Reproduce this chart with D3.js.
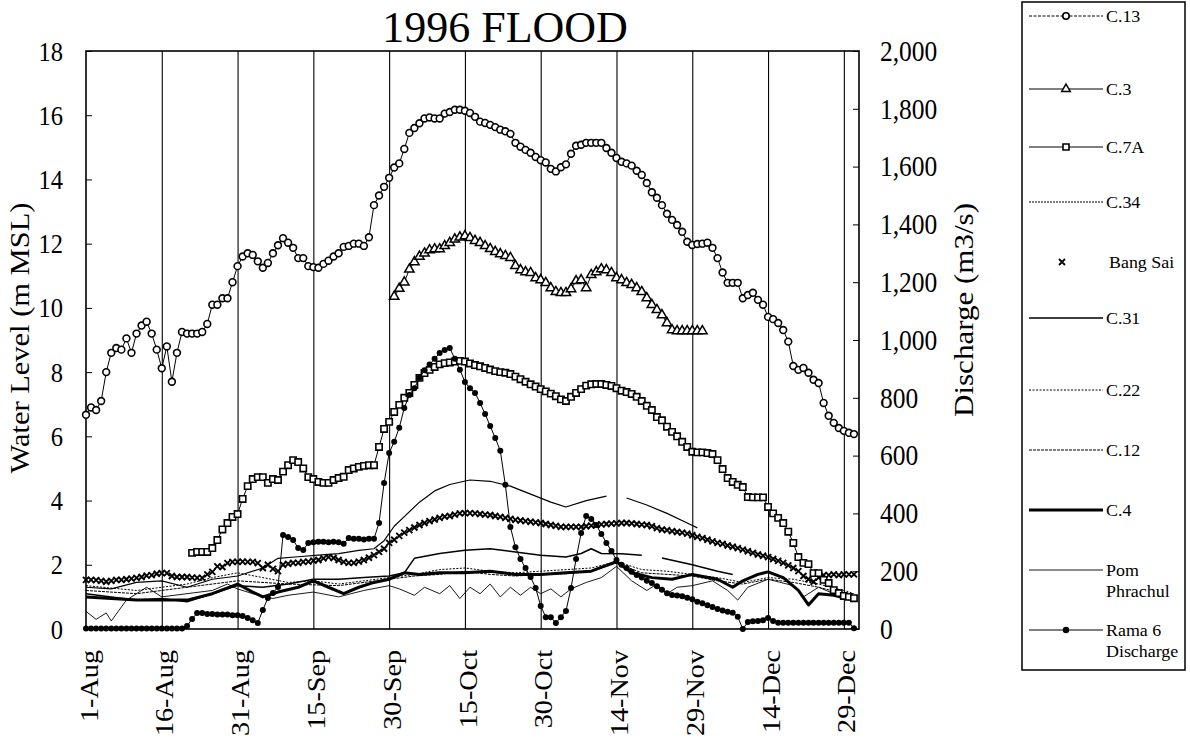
<!DOCTYPE html>
<html><head><meta charset="utf-8">
<script src="https://cdn.jsdelivr.net/npm/d3@7"></script>
<style>
body{margin:0;background:#fff}
svg{display:block}
text{font-family:"Liberation Serif","Times New Roman",serif;fill:#000}
</style>
</head><body>
<svg id="c" width="1190" height="739"></svg>
<script>
// ---------- DATA ----------
const title = "1996 FLOOD";
const tickDays = [0,15,30,45,60,75,90,105,120,135,150];
const tickLabels = ["1-Aug","16-Aug","31-Aug","15-Sep","30-Sep","15-Oct","30-Oct","14-Nov","29-Nov","14-Dec","29-Dec"];
const leftTicks = [0,2,4,6,8,10,12,14,16,18];
const rightTicks = [0,200,400,600,800,1000,1200,1400,1600,1800,2000];

// daily water levels, day 0 = 1-Aug
const c13 = [6.67,6.9,6.82,7.1,8.0,8.6,8.75,8.7,9.05,8.6,9.2,9.45,9.57,9.2,8.7,8.12,8.8,7.7,8.6,9.25,
9.2,9.2,9.2,9.25,9.5,10.1,10.1,10.3,10.3,10.8,11.3,11.6,11.7,11.65,11.45,11.25,11.4,11.7,11.95,12.17,
12.03,11.87,11.55,11.55,11.3,11.27,11.25,11.37,11.47,11.6,11.7,11.9,11.93,12.0,12.0,11.93,12.2,13.2,13.5,13.77,
14.05,14.37,14.5,14.95,15.45,15.6,15.75,15.9,15.93,15.9,15.9,16.05,16.1,16.17,16.17,16.14,16.07,15.95,15.8,15.76,
15.7,15.63,15.55,15.5,15.42,15.14,15.02,14.92,14.83,14.7,14.6,14.53,14.33,14.25,14.38,14.47,14.8,15.05,15.08,15.14,
15.14,15.14,15.14,14.98,14.83,14.67,14.55,14.5,14.43,14.27,14.14,13.89,13.6,13.43,13.2,12.93,12.74,12.58,12.37,12.06,
11.96,11.99,12.0,12.03,11.87,11.55,11.1,10.78,10.78,10.78,10.3,10.4,10.47,10.25,10.1,9.72,9.65,9.53,9.31,8.95,
8.19,8.07,8.13,7.98,7.76,7.66,7.04,6.64,6.42,6.26,6.17,6.11,6.07];

const c3Start = 61;
const c3 = [10.35,10.6,10.8,11.2,11.43,11.6,11.7,11.8,11.83,11.83,11.93,12.03,12.14,12.2,12.24,12.18,12.09,12.03,11.93,11.84,
11.75,11.68,11.62,11.56,11.31,11.18,11.12,11.09,10.93,10.87,10.78,10.62,10.5,10.47,10.47,10.59,10.84,10.87,10.62,11.03,
11.12,11.21,11.18,11.09,10.93,10.87,10.78,10.72,10.62,10.5,10.31,10.1,9.94,9.78,9.53,9.31,9.28,9.28,9.28,9.28,9.28,9.28];

const c7aStart = 21;
const c7a = [2.37,2.4,2.4,2.4,2.52,2.77,3.1,3.3,3.49,3.58,4.05,4.45,4.67,4.73,4.73,4.55,4.67,4.64,4.9,5.1,
5.26,5.2,5.0,4.73,4.67,4.58,4.55,4.55,4.64,4.7,4.74,4.95,5.0,5.05,5.08,5.1,5.1,5.67,6.23,6.45,
6.76,6.98,7.2,7.35,7.6,7.82,7.97,8.07,8.16,8.24,8.28,8.3,8.33,8.35,8.33,8.27,8.22,8.18,8.13,8.08,
8.03,8.0,7.98,7.94,7.86,7.78,7.7,7.62,7.55,7.47,7.4,7.33,7.25,7.15,7.1,7.23,7.35,7.47,7.58,7.62,
7.63,7.63,7.6,7.57,7.5,7.42,7.38,7.32,7.23,7.1,6.95,6.82,6.6,6.5,6.3,6.14,6.0,5.83,5.67,5.52,
5.5,5.5,5.48,5.45,5.26,4.98,4.7,4.58,4.49,4.42,4.11,4.1,4.1,4.1,3.8,3.6,3.46,3.3,3.03,2.68,
2.24,2.06,2.02,1.74,1.74,1.53,1.43,1.21,1.12,1.03,1.0,0.96];

const bangSai = [1.53,1.53,1.52,1.5,1.47,1.5,1.53,1.53,1.55,1.57,1.59,1.62,1.66,1.68,1.72,1.74,1.74,1.65,1.62,1.62,
1.62,1.6,1.59,1.59,1.7,1.78,1.95,1.93,2.05,2.09,2.09,2.1,2.09,2.09,2.05,1.9,2.0,1.87,1.8,2.0,
2.03,2.06,2.06,2.09,2.1,2.13,2.15,2.2,2.24,2.21,2.15,2.09,2.06,2.06,2.1,2.15,2.22,2.3,2.4,2.5,
2.68,2.78,2.9,3.0,3.08,3.16,3.24,3.3,3.36,3.41,3.46,3.5,3.52,3.56,3.6,3.61,3.61,3.6,3.58,3.56,
3.55,3.52,3.49,3.46,3.43,3.4,3.38,3.36,3.34,3.32,3.3,3.27,3.24,3.21,3.18,3.18,3.18,3.18,3.18,3.2,
3.22,3.24,3.26,3.27,3.28,3.29,3.3,3.3,3.29,3.27,3.25,3.24,3.2,3.14,3.1,3.08,3.05,3.02,3.0,2.97,
2.92,2.87,2.83,2.78,2.73,2.68,2.65,2.6,2.56,2.52,2.47,2.42,2.37,2.32,2.28,2.24,2.18,2.12,2.06,1.98,
1.9,1.8,1.65,1.55,1.47,1.6,1.68,1.68,1.7,1.68,1.7,1.7,1.7];

// Rama 6 discharge (m3/s), daily
const rama6 = [2,2,2,2,2,2,2,2,2,2,2,2,2,2,2,2,2,2,2,2,
10,35,55,55,52,52,50,50,50,48,48,45,38,30,21,66,107,125,145,325,
318,308,280,273,298,300,302,302,300,302,300,295,315,312,312,310,312,312,367,505,
609,648,696,765,810,833,869,895,915,935,955,965,972,935,897,855,833,817,782,744,
702,661,617,499,353,283,242,211,180,142,80,41,41,21,41,62,142,242,332,391,
381,360,329,298,270,239,222,211,198,187,178,167,159,148,136,124,118,116,113,108,
103,94,89,82,76,69,64,60,56,42,0,24,27,28,30,38,28,22,22,22,
22,22,22,22,22,22,22,22,22,22,22,22,3];

// line-only stations: [day, level]; null = gap
const c34 = [[0,1.3],[5,1.25],[10,1.45],[15,1.5],[20,1.3],[25,1.55],[30,1.65],[35,1.9],[38,2.2],[42,2.25],[46,2.3],[50,2.35],[54,2.45],[57,2.5],[59,2.75],[61,3.2],[63,3.5],[66,3.95],[69,4.3],[72,4.5],[76,4.64],[80,4.6],[84,4.45],[88,4.2],[92,3.95],[95,3.8],[99,4.0],[103,4.14],[105,null],[107,4.08],[111,3.86],[115,3.6],[119,3.3],[121,3.15]];
const c31 = [[0,1.1],[5,1.0],[10,0.9],[15,0.95],[20,0.85],[25,1.1],[30,1.35],[35,1.3],[40,1.4],[45,1.55],[50,1.55],[55,1.6],[60,1.65],[63,1.75],[65,2.2],[70,2.35],[75,2.45],[80,2.5],[85,2.4],[90,2.3],[95,2.24],[98,2.35],[100,2.5],[102,2.35],[106,2.34],[110,2.3],[112,null],[114,2.21],[120,2.0],[125,1.8],[128,1.7]];
const c22 = [[0,1.35],[10,1.2],[20,1.4],[25,1.6],[30,1.75],[35,1.6],[40,1.45],[45,1.5],[50,1.4],[55,1.5],[60,1.6],[65,1.7],[70,1.85],[75,1.9],[80,1.8],[85,1.75],[90,1.8],[95,1.85],[100,1.9],[105,2.1],[110,1.85],[115,1.8],[120,1.7],[125,1.6],[130,1.45],[135,1.6],[140,1.55],[145,1.4],[150,1.2],[152,1.1]];
const c12 = [[0,1.2],[10,1.1],[20,1.3],[30,1.5],[40,1.4],[50,1.35],[60,1.55],[65,1.65],[70,1.7],[75,1.8],[80,1.7],[85,1.65],[90,1.7],[95,1.72],[100,1.8],[105,2.05],[110,1.75],[115,1.7],[120,1.65],[125,1.5],[130,1.4],[135,1.55],[140,1.45],[145,1.3],[150,1.1],[152,1.0]];
const c4 = [[0,1.0],[5,0.95],[10,0.9],[15,0.9],[20,0.9],[25,1.1],[30,1.4],[33,1.15],[35,1.0],[38,1.15],[42,1.3],[45,1.5],[48,1.3],[51,1.1],[54,1.3],[57,1.45],[60,1.55],[63,1.75],[66,1.7],[70,1.75],[75,1.75],[80,1.8],[85,1.7],[90,1.7],[95,1.75],[100,1.8],[105,2.1],[108,1.75],[112,1.6],[116,1.55],[120,1.7],[125,1.55],[128,1.3],[130,1.5],[133,1.7],[135,1.78],[138,1.6],[141,1.2],[143,0.75],[145,1.1],[148,1.05],[152,0.9]];
const pom = [[0,0.55],[2,0.3],[4,0.5],[5,0.25],[8,0.9],[12,1.3],[15,1.0],[20,1.1],[25,1.2],[28,1.4],[30,1.25],[33,1.1],[37,0.95],[40,1.05],[45,1.15],[50,1.0],[55,1.2],[60,1.35],[62,1.25],[65,1.05],[67,1.3],[70,1.1],[72,1.35],[74,0.95],[76,1.3],[78,1.1],[80,1.4],[82,1.0],[84,1.3],[86,1.05],[88,1.3],[90,1.1],[92,1.25],[94,1.0],[96,1.25],[99,1.45],[102,1.6],[105,1.95],[108,1.5],[111,1.2],[113,1.4],[115,1.1],[117,1.3],[120,1.35],[124,1.5],[127,1.2],[129,0.9],[131,1.3],[135,1.55],[140,1.35],[142,1.0],[145,1.3],[148,1.1],[152,0.95]];

const legendNames = ["C.13","C.3","C.7A","C.34","Bang Sai","C.31","C.22","C.12","C.4","Pom|Phrachul","Rama 6|Discharge"];

// ---------- CHART ----------
const svg = d3.select("#c");
const M = {l:86, r:859, t:51, b:629};
const SY = 1.15; // vertical stretch of scanned lettering
const x = d3.scaleLinear().domain([0,153]).range([M.l, M.r]);
const y = d3.scaleLinear().domain([0,18]).range([M.b, M.t]);
const yR = d3.scaleLinear().domain([0,2000]).range([M.b, M.t]);

svg.append("rect").attr("width",1190).attr("height",739).attr("fill","#fff");

// title
svg.append("text").text(title)
  .attr("text-anchor","middle").attr("font-size",44)
  .attr("x",505).attr("y",42);

// gridlines + x axis
const gx = svg.append("g").attr("transform",`translate(0,${M.b})`)
  .call(d3.axisBottom(x).tickValues(tickDays).tickSize(-(M.b-M.t)).tickFormat((d,i)=>tickLabels[i]));
gx.select(".domain").remove();
gx.selectAll(".tick line").attr("stroke","#000").attr("stroke-width",1.1)
  .filter(d=>d===0).remove();
gx.selectAll(".tick text")
  .attr("font-size",24.5).attr("font-family","Liberation Serif")
  .attr("text-anchor","end").attr("x",null).attr("y",null).attr("dy","0.33em")
  .attr("transform",`translate(3,21) scale(1,${SY}) rotate(-90)`);

// left axis
const gl = svg.append("g").attr("transform",`translate(${M.l},0)`)
  .call(d3.axisLeft(y).tickValues(leftTicks).tickSize(-6).tickPadding(23));
gl.select(".domain").remove();
gl.selectAll(".tick line").attr("stroke","#000");
gl.selectAll(".tick text").attr("font-size",24.5).attr("font-family","Liberation Serif")
  .attr("transform",`scale(1,${SY})`);

// right axis
const gr = svg.append("g").attr("transform",`translate(${M.r},0)`)
  .call(d3.axisRight(yR).tickValues(rightTicks).tickSize(-6).tickPadding(21).tickFormat(d3.format(",")));
gr.select(".domain").remove();
gr.selectAll(".tick line").attr("stroke","#000");
gr.selectAll(".tick text").attr("font-size",25.5).attr("font-family","Liberation Serif")
  .attr("transform",`scale(1,${SY})`);

// axis titles
svg.append("text").text("Water Level (m MSL)").attr("text-anchor","middle").attr("font-size",26.5)
  .attr("transform",`translate(29,338) scale(1,${SY}) rotate(-90)`);
svg.append("text").text("Discharge (m3/s)").attr("text-anchor","middle").attr("font-size",27)
  .attr("transform",`translate(973,310) scale(1,${SY}) rotate(-90)`);

// frame
svg.append("rect").attr("x",M.l).attr("y",M.t).attr("width",M.r-M.l).attr("height",M.b-M.t)
  .attr("fill","none").attr("stroke","#000").attr("stroke-width",1.6);

const plot = svg.append("g");
const lineGen = d3.line().defined(d=>d[1]!=null).x(d=>x(d[0])).y(d=>y(d[1]));
const daily = (arr,start=0)=>arr.map((v,i)=>[start+i,v]);

function drawLine(data, width, dash){
  plot.append("path").datum(data).attr("d",lineGen)
    .attr("fill","none").attr("stroke","#000").attr("stroke-width",width)
    .attr("stroke-dasharray",dash||null).attr("stroke-linejoin","round");
}

// plain line stations
drawLine(pom, 0.9);
drawLine(c12, 1.0, "3,1");
drawLine(c22, 1.0, "2,1.5");
drawLine(c31, 1.5);
drawLine(c34, 1.2);
drawLine(c4, 3.0);

// Bang Sai: x markers only
const crossPath = "M-3,-3L3,3M-3,3L3,-3";
plot.append("g").selectAll("path").data(daily(bangSai)).join("path")
  .attr("d",crossPath).attr("transform",d=>`translate(${x(d[0])},${y(d[1])})`)
  .attr("stroke","#000").attr("stroke-width",1.9).attr("fill","none");

// C.7A squares
const c7aData = daily(c7a,c7aStart);
drawLine(c7aData, 1);
plot.append("g").selectAll("path").data(c7aData).join("path")
  .attr("d",d3.symbol(d3.symbolSquare,40)).attr("transform",d=>`translate(${x(d[0])},${y(d[1])})`)
  .attr("fill","#fff").attr("stroke","#000").attr("stroke-width",1.6);

// C.3 triangles
const c3Data = daily(c3,c3Start);
drawLine(c3Data, 1);
plot.append("g").selectAll("path").data(c3Data).join("path")
  .attr("d",d3.symbol(d3.symbolTriangle,38)).attr("transform",d=>`translate(${x(d[0])},${y(d[1])})`)
  .attr("fill","#fff").attr("stroke","#000").attr("stroke-width",1.5);

// C.13 circles
const c13Data = daily(c13);
drawLine(c13Data, 1);
plot.append("g").selectAll("circle").data(c13Data).join("circle")
  .attr("cx",d=>x(d[0])).attr("cy",d=>y(d[1])).attr("r",3.4)
  .attr("fill","#fff").attr("stroke","#000").attr("stroke-width",1.6);

// Rama 6 discharge (right axis)
const ramaData = daily(rama6);
const lineR = d3.line().x(d=>x(d[0])).y(d=>yR(d[1]));
plot.append("path").datum(ramaData).attr("d",lineR).attr("fill","none").attr("stroke","#000").attr("stroke-width",1);
plot.append("g").selectAll("circle").data(ramaData).join("circle")
  .attr("cx",d=>x(d[0])).attr("cy",d=>yR(d[1])).attr("r",3).attr("fill","#000");

// ---------- LEGEND ----------
const leg = svg.append("g");
leg.append("rect").attr("x",1022).attr("y",2).attr("width",163).attr("height",668)
  .attr("fill","#fff").attr("stroke","#000").attr("stroke-width",1.5);
const legY = [16,89,147,202,262,318,390,450,510,570,630];
const legStyle = [
  {w:1, dash:"3,1.5", m:"circle"},
  {w:1, m:"tri"},
  {w:1, m:"sq"},
  {w:1.2, dash:"2,1"},
  {m:"x", noline:true},
  {w:1.6},
  {w:1, dash:"2,1.5"},
  {w:1, dash:"3,1"},
  {w:3},
  {w:0.9},
  {w:1, m:"dot"}
];
legendNames.forEach((name,i)=>{
  const g = leg.append("g").attr("transform",`translate(0,${legY[i]})`);
  const s = legStyle[i];
  if(!s.noline){
    g.append("line").attr("x1",1029).attr("x2",1103).attr("y1",0).attr("y2",0)
      .attr("stroke","#000").attr("stroke-width",s.w).attr("stroke-dasharray",s.dash||null);
  }
  const mx = 1066;
  if(s.m==="circle") g.append("circle").attr("cx",mx).attr("r",3.2).attr("fill","#fff").attr("stroke","#000").attr("stroke-width",1.6);
  if(s.m==="tri") g.append("path").attr("d",d3.symbol(d3.symbolTriangle,32)).attr("transform",`translate(${mx},0)`).attr("fill","#fff").attr("stroke","#000").attr("stroke-width",1.5);
  if(s.m==="sq") g.append("path").attr("d",d3.symbol(d3.symbolSquare,36)).attr("transform",`translate(${mx},0)`).attr("fill","#fff").attr("stroke","#000").attr("stroke-width",1.6);
  if(s.m==="x") g.append("path").attr("d",crossPath).attr("transform",`translate(${mx-4},0)`).attr("stroke","#000").attr("stroke-width",1.8);
  if(s.m==="dot") g.append("circle").attr("cx",mx).attr("r",3.2).attr("fill","#000");
  const parts = name.split("|");
  const t = g.append("text").attr("font-size",16).attr("transform",`translate(${s.noline?1109:1106},0) scale(1.12,1)`);
  parts.forEach((p,j)=>t.append("tspan").attr("x",0).attr("dy",j===0?"0.35em":"1.35em").text(p));
});
</script>
</body></html>
